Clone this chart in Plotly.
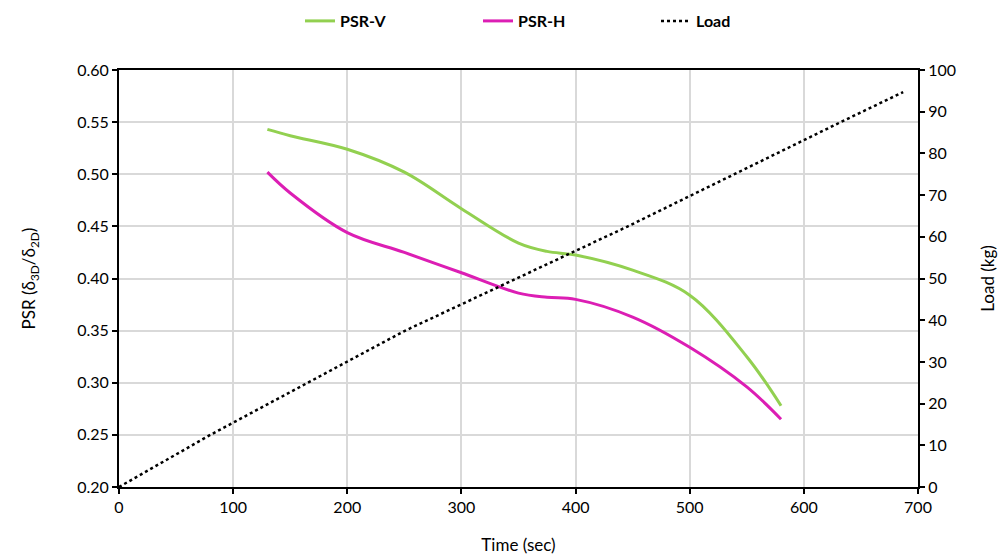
import plotly.graph_objects as go

time_psr = [130, 150, 200, 250, 300, 350, 375, 400, 450, 500, 550, 580]
psr_v = [0.543, 0.537, 0.524, 0.502, 0.467, 0.434, 0.426, 0.4225, 0.408, 0.384, 0.325, 0.278]
psr_h = [0.502, 0.482, 0.444, 0.425, 0.4055, 0.386, 0.382, 0.380, 0.363, 0.334, 0.296, 0.265]

time_load = [0, 80, 250, 445, 633, 687]
load = [0, 12.5, 37.4, 62.4, 87.6, 94.7]

FONT = "Lato"

fig = go.Figure()
fig.add_trace(go.Scatter(x=time_psr, y=psr_v, name="PSR-V", mode="lines",
                         line=dict(color="#92D050", width=3, shape="spline", smoothing=1.0)))
fig.add_trace(go.Scatter(x=time_psr, y=psr_h, name="PSR-H", mode="lines",
                         line=dict(color="#DC1EB4", width=3, shape="spline", smoothing=1.0)))
fig.add_trace(go.Scatter(x=time_load, y=load, name="Load", mode="lines", yaxis="y2",
                         line=dict(color="black", width=2.5, dash="dot")))

fig.update_layout(
    width=1000, height=558,
    margin=dict(l=119, r=82, t=70, b=71, autoexpand=False),
    paper_bgcolor="white", plot_bgcolor="white",
    font=dict(family=FONT, size=16, color="black"),
    legend=dict(orientation="h", x=(300 - 119) / 799, xanchor="left", xref="paper",
                y=1 - 21 / 558, yanchor="middle", yref="container",
                font=dict(family=FONT, size=16, color="black", weight="bold"),
                entrywidth=133, entrywidthmode="pixels"),
    xaxis=dict(range=[0, 700], dtick=100, tick0=0, showgrid=True, gridcolor="#D9D9D9", gridwidth=1.5,
               showline=True, linecolor="black", linewidth=2, mirror=True,
               ticks="outside", ticklen=5, tickcolor="black", tickwidth=1.5,
               title=dict(text="Time (sec)", font=dict(size=17), standoff=24), zeroline=False),
    yaxis=dict(range=[0.20, 0.60], dtick=0.05, tick0=0.2, tickformat=".2f", showgrid=True,
               gridcolor="#D9D9D9", gridwidth=1.5, showline=True, linecolor="black", linewidth=2,
               ticks="outside", ticklen=5, tickcolor="black", tickwidth=1.5,
               title=dict(text="PSR (δ<sub>3D</sub>/δ<sub>2D</sub>)", font=dict(size=17), standoff=37),
               zeroline=False),
    yaxis2=dict(range=[0, 100], dtick=10, overlaying="y", side="right", showgrid=False,
                showline=True, linecolor="black", linewidth=2,
                ticks="outside", ticklen=5, tickcolor="black", tickwidth=1.5,
                title=dict(text="Load (kg)", font=dict(size=17), standoff=27), zeroline=False),
)

fig.write_html("out.html")
